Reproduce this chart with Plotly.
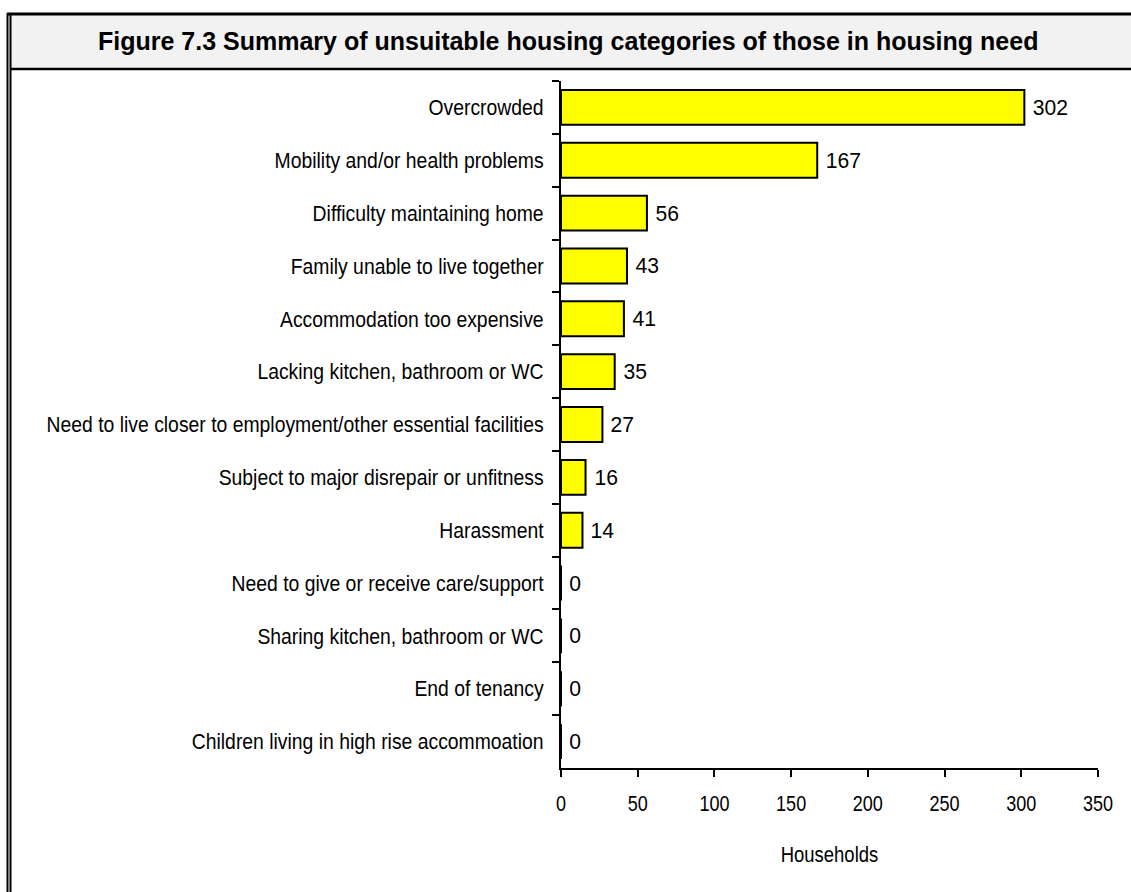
import plotly.graph_objects as go

# Unsuitable housing categories (top to bottom) and household counts
categories = [
    "Overcrowded",
    "Mobility and/or health problems",
    "Difficulty maintaining home",
    "Family unable to live together",
    "Accommodation too expensive",
    "Lacking kitchen, bathroom or WC",
    "Need to live closer to employment/other essential facilities",
    "Subject to major disrepair or unfitness",
    "Harassment",
    "Need to give or receive care/support",
    "Sharing kitchen, bathroom or WC",
    "End of tenancy",
    "Children living in high rise accommoation",
]
households = [302, 167, 56, 43, 41, 35, 27, 16, 14, 0, 0, 0, 0]
x_ticks = [0, 50, 100, 150, 200, 250, 300, 350]

W, H = 1131, 892
L, R, T, B = 561, 33, 81, 124
PW, PH = W - L - R, H - T - B

def px(x):
    return (x - L) / PW

def py(y):
    return (H - B - y) / PH

LABEL_FONT = "Liberation Sans, Arial, sans-serif"
LABEL_SIZE = 22

fig = go.Figure()
fig.add_trace(go.Bar(
    x=households,
    y=categories,
    orientation="h",
    marker=dict(color="#ffff00", line=dict(color="black", width=2)),
    width=0.66,
    hoverinfo="skip",
))

# Value labels to the right of each bar
for c, v in zip(categories, households):
    fig.add_annotation(x=v, y=c, text=str(v), showarrow=False,
                       xanchor="left", xshift=6,
                       font=dict(family=LABEL_FONT, size=LABEL_SIZE, color="black"))

shapes = [
    # title band
    dict(type="rect", xref="paper", yref="paper",
         x0=px(11), x1=px(W + 5), y0=py(69), y1=py(14),
         fillcolor="#f2f2f2", line=dict(width=0), layer="below"),
    dict(type="line", xref="paper", yref="paper",
         x0=px(7), x1=px(W + 5), y0=py(14), y1=py(14),
         line=dict(color="black", width=3)),
    dict(type="line", xref="paper", yref="paper",
         x0=px(11), x1=px(W + 5), y0=py(69), y1=py(69),
         line=dict(color="black", width=2.5)),
    # double left border
    dict(type="line", xref="paper", yref="paper",
         x0=px(7.5), x1=px(7.5), y0=py(13), y1=py(H + 5),
         line=dict(color="black", width=2)),
    dict(type="line", xref="paper", yref="paper",
         x0=px(10.5), x1=px(10.5), y0=py(13), y1=py(H + 5),
         line=dict(color="black", width=2)),
]

TITLE_INDEX = len(categories)
fig.add_annotation(
    x=px(568), y=py(41), xref="paper", yref="paper",
    text="<b>Figure 7.3 Summary of unsuitable housing categories of those in housing need</b>",
    showarrow=False, xanchor="center", yanchor="middle",
    font=dict(family="Liberation Sans, Arial, sans-serif", size=25, color="black"),
)

fig.update_layout(
    width=W, height=H,
    margin=dict(l=L, r=R, t=T, b=B, autoexpand=False),
    paper_bgcolor="white", plot_bgcolor="white",
    showlegend=False,
    shapes=shapes,
    bargap=0.34,
    font=dict(family=LABEL_FONT, size=LABEL_SIZE, color="black"),
)
fig.update_xaxes(
    range=[0, 350], tickvals=x_ticks, ticktext=[str(t) for t in x_ticks],
    showgrid=False, zeroline=False, automargin=False,
    showline=True, linecolor="black", linewidth=2,
    ticks="outside", ticklen=7, tickwidth=2, tickcolor="black",
    tickfont=dict(family=LABEL_FONT, size=LABEL_SIZE),
    ticklabelstandoff=8,
    title=dict(text="Households", font=dict(family=LABEL_FONT, size=LABEL_SIZE), standoff=31),
)
fig.update_yaxes(
    categoryorder="array", categoryarray=categories, autorange="reversed",
    showgrid=False, zeroline=False, automargin=False,
    showline=True, linecolor="black", linewidth=2,
    ticks="outside", tickson="boundaries", ticklen=7, tickwidth=2, tickcolor="black",
    tickfont=dict(family=LABEL_FONT, size=LABEL_SIZE),
    ticklabelstandoff=11,
)

# Narrow the axis and value-label text horizontally (condensed face look),
# scaling each text about its own anchor x so alignment is preserved
condense_js = """
var gd = document.getElementById('{plot_id}');
function narrow(t, k) {
  var tr = t.getAttribute('transform') || '';
  if (tr.indexOf(' scale(') !== -1) return;
  var x = parseFloat(t.getAttribute('x')) || 0;
  t.setAttribute('transform', tr + ' translate(' + x + ',0) scale(' + k + ',1) translate(' + (-x) + ',0)');
}
function condense() {
  gd.querySelectorAll('.ytick text').forEach(function (t) { narrow(t, 0.88); });
  gd.querySelectorAll('.xtick text').forEach(function (t) { narrow(t, 0.82); });
  gd.querySelectorAll('.xtitle').forEach(function (t) { narrow(t, 0.84); });
  gd.querySelectorAll('.annotation').forEach(function (g) {
    if (g.getAttribute('data-index') === '%d') return;
    g.querySelectorAll('text').forEach(function (t) { narrow(t, 0.96); });
  });
}
condense();
setTimeout(condense, 0);
gd.on('plotly_afterplot', condense);
""" % TITLE_INDEX

fig.write_html("out.html", post_script=condense_js)
